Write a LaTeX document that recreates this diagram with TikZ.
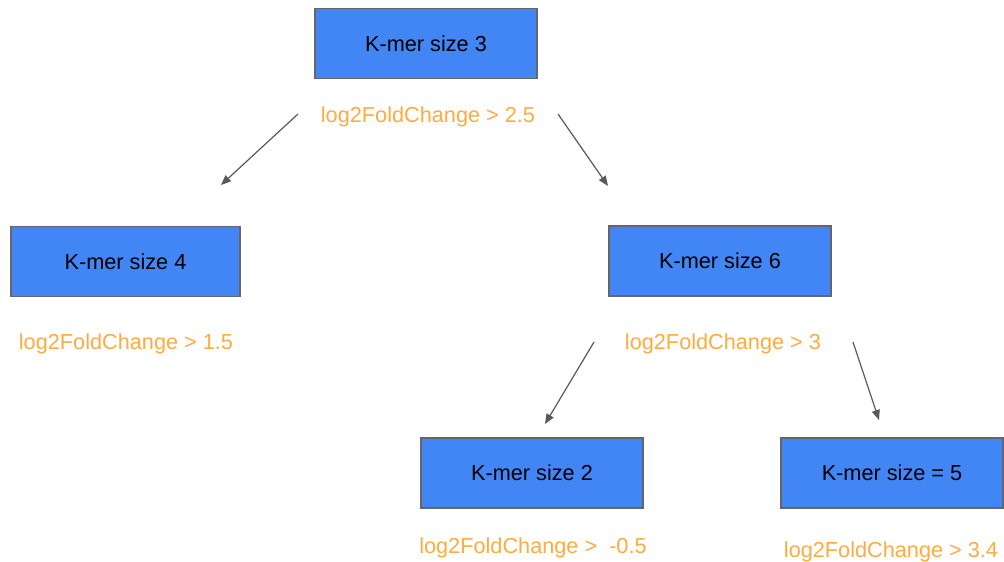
\documentclass[tikz,border=0pt]{standalone}
\usepackage{fontspec}
\setmainfont{Liberation Sans}
\usepackage{xcolor}
\usetikzlibrary{arrows.meta}
\definecolor{kblue}{HTML}{4285F4}
\definecolor{kborder}{HTML}{666666}
\definecolor{korange}{HTML}{FFAB40}
\definecolor{kgray}{HTML}{595959}

\begin{document}
\begin{tikzpicture}[x=1pt,y=-1pt,
  kbox/.style={draw=kborder,line width=1.2pt,fill=kblue,minimum width=222pt,minimum height=70pt,inner sep=0pt,font=\fontsize{21.7}{26}\selectfont},
  cond/.style={inner sep=0pt,text=korange,font=\fontsize{21.7}{26}\selectfont},
  edge/.style={draw=kgray,line width=1.2pt,-{Triangle[length=10pt,width=8pt]}}]
\useasboundingbox (0,0) rectangle (1004,562);
% K-mer boxes
\node[kbox] (k3) at (426,43.5) {K-mer size 3};
\node[kbox,minimum width=229pt] (k4) at (125.5,261.5) {K-mer size 4};
\node[kbox] (k6) at (720,261) {K-mer size 6};
\node[kbox] (k2) at (532,473) {K-mer size 2};
\node[kbox] (k5) at (892,473) {K-mer size = 5};
% Fold change conditions
\node[cond] (c3) at (428,117) {log2FoldChange > 2.5};
\node[cond] (c4) at (126,344) {log2FoldChange > 1.5};
\node[cond] (c6) at (723,344) {log2FoldChange > 3};
\node[cond] (c2) at (533,548) {log2FoldChange >\ \ -0.5};
\node[cond] (c5) at (891,552) {log2FoldChange > 3.4};
% Edges
\coordinate (e1s) at (298,114);  \coordinate (e1e) at (221,185);
\coordinate (e2s) at (558,114);  \coordinate (e2e) at (608,186);
\coordinate (e3s) at (594,342);  \coordinate (e3e) at (545,424);
\coordinate (e4s) at (853,342);  \coordinate (e4e) at (879,420);
\draw[edge] (e1s) -- (e1e);
\draw[edge] (e2s) -- (e2e);
\draw[edge] (e3s) -- (e3e);
\draw[edge] (e4s) -- (e4e);
\end{tikzpicture}
\end{document}
